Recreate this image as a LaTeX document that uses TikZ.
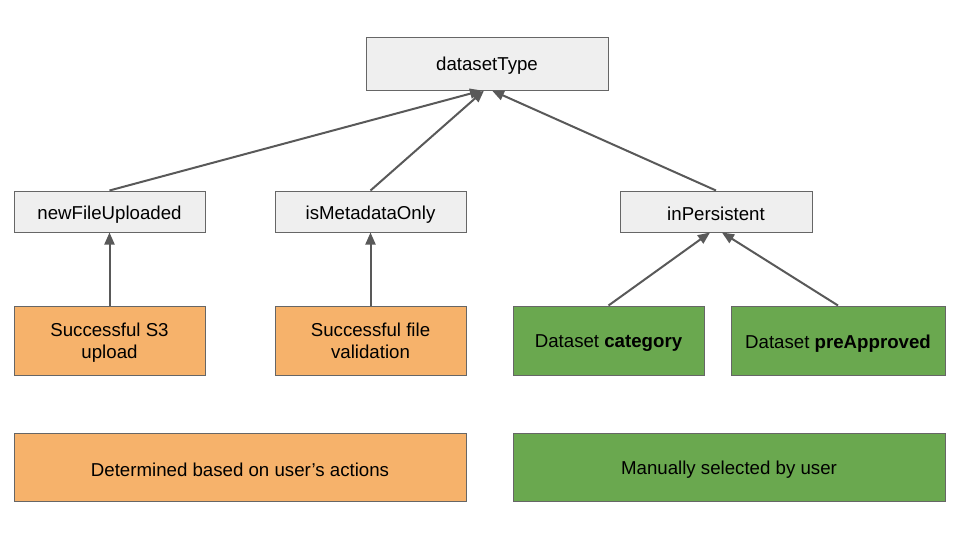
\documentclass[tikz,border=0pt]{standalone}
\usepackage{fontspec}
\setmainfont{Liberation Sans}
\usetikzlibrary{arrows.meta,calc}
\definecolor{boxgray}{HTML}{EFEFEF}
\definecolor{boxorange}{HTML}{F6B26B}
\definecolor{boxgreen}{HTML}{6AA84F}
\definecolor{edgegray}{HTML}{595959}
\definecolor{bordergray}{HTML}{666666}
\newcommand{\lowtext}[1]{\raisebox{-2pt}[\height][\depth]{#1}}
\newcommand{\twolines}[2]{\raisebox{-2pt}[\height][\depth]{\begin{tabular}{@{}c@{}}#1\\#2\end{tabular}}}
\begin{document}
\begin{tikzpicture}[x=0.75pt,y=-0.75pt,
  box/.style={draw=bordergray,line width=0.75pt,rectangle,inner sep=0pt,align=center,
    font=\fontsize{14}{16.5}\selectfont,text=black},
  graybox/.style={box,fill=boxgray},
  orangebox/.style={box,fill=boxorange},
  greenbox/.style={box,fill=boxgreen},
  conn/.style={draw=edgegray,line width=1.5pt,-{Triangle[length=9pt,width=7.5pt]}}]
\useasboundingbox (0,0) rectangle (960,540);
\node[graybox,minimum width=181.5pt,minimum height=39.75pt] (dt) at (487,63.5) {\lowtext{datasetType}};
\node[graybox,minimum width=143.25pt,minimum height=30.75pt] (nfu) at (109.5,211.5) {\lowtext{newFileUploaded}};
\node[graybox,minimum width=143.25pt,minimum height=30.75pt] (imo) at (370.5,211.5) {\lowtext{isMetadataOnly}};
\node[graybox,minimum width=144pt,minimum height=30.75pt] (inp) at (716,211.5) {\lowtext{inPersistent}};
\node[orangebox,minimum width=143.25pt,minimum height=51.75pt] (s3) at (109.5,340.5) {\twolines{Successful S3}{upload}};
\node[orangebox,minimum width=143.25pt,minimum height=51.75pt] (val) at (370.5,340.5) {\twolines{Successful file}{validation}};
\node[greenbox,minimum width=143.25pt,minimum height=51.75pt] (cat) at (608.5,340.5) {\lowtext{Dataset \textbf{category}}};
\node[greenbox,minimum width=160.5pt,minimum height=51.75pt] (pre) at (838,340.5) {\lowtext{Dataset \textbf{preApproved}}};
\node[orangebox,minimum width=339pt,minimum height=51pt] (leg1) at (240,467) {\lowtext{Determined based on user’s actions}};
\node[greenbox,minimum width=324pt,minimum height=51pt] (leg2) at (729,467) {\lowtext{Manually selected by user}};
\draw[conn] (nfu.north) -- ($(dt.south)+(-5,0)$);
\draw[conn] (imo.north) -- ($(dt.south)+(-3,0)$);
\draw[conn] (inp.north) -- ($(dt.south)+(5,0)$);
\draw[conn] (s3.north) -- (nfu.south);
\draw[conn] (val.north) -- (imo.south);
\draw[conn] (cat.north) -- ($(inp.south)+(-6,0)$);
\draw[conn] (pre.north) -- ($(inp.south)+(6,0)$);
\end{tikzpicture}
\end{document}
